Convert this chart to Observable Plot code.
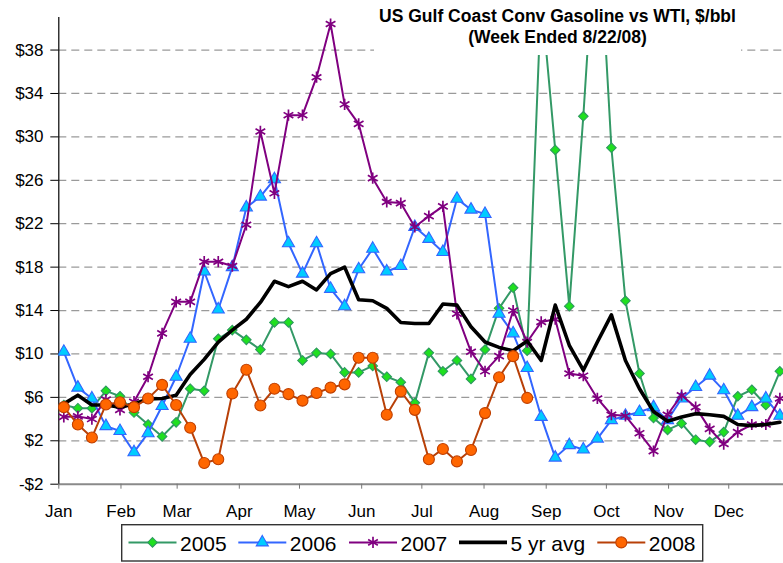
<!DOCTYPE html>
<html><head><meta charset="utf-8">
<script src="https://cdn.jsdelivr.net/npm/d3@7"></script>
<script src="https://cdn.jsdelivr.net/npm/@observablehq/plot@0.6"></script>
<style>
body{margin:0;background:#fff;}
#wrap{position:relative;width:783px;height:563px;overflow:hidden;background:#fff;font-family:'Liberation Sans',Arial,sans-serif;}
#chart{position:absolute;left:0;top:0;}
#title{position:absolute;left:374px;top:0;width:367px;height:55px;background:#fff;text-align:center;font-weight:bold;font-size:17.5px;line-height:21.6px;padding-top:5.8px;box-sizing:border-box;color:#000;white-space:nowrap;}
#legend{position:absolute;left:0;top:0;pointer-events:none;}
</style></head><body>
<div id="wrap">
  <div id="chart"></div>
  <div id="title">US Gulf Coast Conv Gasoline vs WTI, $/bbl<br>(Week Ended 8/22/08)</div>
  <svg id="legend" width="783" height="563"></svg>
</div>
<script>
// ---- data ----
const months = ["Jan","Feb","Mar","Apr","May","Jun","Jul","Aug","Sep","Oct","Nov","Dec"];
const monthStartDay = [0,31,59,90,120,151,181,212,243,273,304,334];
const yTicks = [-2,2,6,10,14,18,22,26,30,34,38];
const seriesNames = ["2005","2006","2007","5 yr avg","2008"];

const s2005 = [5.3,5.0,5.0,6.6,6.1,4.6,3.5,2.4,3.7,6.8,6.6,11.4,12.2,11.3,10.4,12.9,12.9,9.4,10.1,10.0,8.3,8.3,8.9,7.9,7.4,5.5,10.1,8.4,9.4,7.7,10.4,14.2,16.1,10.3,43,28.8,14.4,31.9,52,29.0,14.9,8.2,4.1,3.0,3.6,2.1,1.9,2.8,6.1,6.7,5.3,8.4];
const s2006 = [10.2,6.9,5.9,3.35,2.9,0.95,2.7,5.2,7.9,11.4,17.6,14.1,18.0,23.5,24.5,26.1,20.2,17.4,20.2,16.0,14.4,17.8,19.7,17.6,18.1,21.7,20.6,19.4,24.3,23.3,22.9,13.7,11.9,8.7,4.2,0.45,1.6,1.2,2.2,3.9,4.3,4.65,5.1,3.9,5.9,6.95,8.0,6.65,4.3,5.1,5.9,4.3];
const s2007 = [4.2,4.25,4.0,5.8,4.85,5.6,7.9,11.9,14.8,14.8,18.5,18.5,18.1,21.9,30.5,24.8,32.0,32.0,35.5,40.4,33.0,31.2,26.2,24.0,23.9,21.7,22.7,23.6,13.7,10.2,8.4,9.8,14.0,11.1,12.95,13.2,8.2,8.0,5.9,4.4,4.3,2.7,1.05,4.4,6.2,5.1,3.1,1.7,2.8,3.5,3.5,5.9];
const sAvg = [5.4,6.2,5.3,5.3,5.1,5.4,5.85,5.9,6.2,8.1,9.5,11.1,12.2,13.2,14.75,16.7,16.2,16.7,15.9,17.4,18.0,15.0,14.9,14.2,12.9,12.8,12.8,14.6,14.5,12.5,11.1,10.6,10.3,11.2,9.4,14.5,10.8,8.5,11.1,13.6,9.4,6.8,4.7,3.8,4.2,4.5,4.4,4.25,3.5,3.4,3.5,3.7];
const s2008 = [5.1,3.5,2.3,5.35,5.55,5.1,5.9,7.15,5.3,3.2,-0.05,0.3,6.35,8.55,5.25,6.8,6.3,5.7,6.4,6.9,7.2,9.65,9.65,4.4,6.55,4.85,0.3,1.25,0.1,1.15,4.55,7.85,9.8,5.95];

// ---- table (week i plotted at mid-week day of year) ----
const toRows = (vals) => vals.map((v, i) => ({day: 2.5 + 7 * i, v}));
const r2005 = toRows(s2005), r2006 = toRows(s2006), r2007 = toRows(s2007), rAvg = toRows(sAvg), r2008 = toRows(s2008);

const st = {
  "2005": {line:"#339966", w:2, symbol:"diamond2", r:4.3, fill:"#1fe01f", stroke:"#2e9960"},
  "2006": {line:"#3366ff", w:2, symbol:"triangle", r:4.5, fill:"#00ccff", stroke:"#3366ff"},
  "2007": {line:"#800080", w:2, symbol:"asterisk", r:5.3, fill:"none", stroke:"#800080"},
  "5 yr avg": {line:"#000000", w:3.6},
  "2008": {line:"#b84008", w:2, symbol:"circle", r:5.5, fill:"#ff6600", stroke:"#c04000"}
};

const fmt = d => d < 0 ? "-$" + (-d) : "$" + d;
const gridTicks = yTicks.filter(t => t > -2);

function seriesMarks(rows, key) {
  const s = st[key];
  const m = [Plot.line(rows, {x:"day", y:"v", stroke:s.line, strokeWidth:s.w, clip:true, strokeLinejoin:"round"})];
  if (s.symbol) {
    m.push(Plot.dot(rows, {x:"day", y:"v", symbol:s.symbol, r:s.r, fill:s.fill, stroke:s.stroke,
      strokeWidth: s.symbol === "asterisk" ? 1.7 : 1.1, clip:true}));
  }
  return m;
}

const chart = Plot.plot({
  width: 783,
  height: 522,
  marginLeft: 58.3,
  marginRight: 0,
  marginTop: 17,
  marginBottom: 38.3,
  style: {fontFamily: "'Liberation Sans', Arial, sans-serif", fontSize: "17px", background: "#fff", color: "#000"},
  x: {type: "linear", domain: [0, 361.3]},
  y: {domain: [-2, 41]},
  marks: [
    Plot.ruleY(gridTicks, {stroke: "#9a9a9a", strokeWidth: 1.2, strokeDasharray: "8,5"}),
    Plot.ruleY([-2], {stroke: "#8a8a8a", strokeWidth: 2}),
    Plot.ruleX([0], {y1: -2, y2: 41, stroke: "#000", strokeWidth: 1.2}),
    Plot.axisY({ticks: yTicks, tickFormat: fmt, tickSize: 8, tickPadding: 7.3, fontSize: 17, label: null, stroke: "#000"}),
    Plot.axisX({ticks: monthStartDay, tickFormat: (d) => months[monthStartDay.indexOf(d)], tickSize: 5, tickPadding: 16, fontSize: 17, label: null, stroke: "#777"}),
    ...seriesMarks(r2005, "2005"),
    ...seriesMarks(r2006, "2006"),
    ...seriesMarks(r2007, "2007"),
    ...seriesMarks(rAvg, "5 yr avg"),
    ...seriesMarks(r2008, "2008")
  ]
});
document.getElementById("chart").appendChild(chart);

// ---- legend ----
const lg = d3.select("#legend");
lg.append("rect").attr("x", 121.7).attr("y", 524.7).attr("width", 581).attr("height", 36.3)
  .attr("fill", "#fff").attr("stroke", "#333").attr("stroke-width", 1.4);
const swatchX = [128.5, 238.3, 349, 459, 597.3];
const symMap = {diamond2: d3.symbolDiamond2, triangle: d3.symbolTriangle, asterisk: d3.symbolAsterisk, circle: d3.symbolCircle};
seriesNames.forEach((name, k) => {
  const s = st[name];
  const x0 = swatchX[k], x1 = x0 + 48, yc = 542.4;
  lg.append("line").attr("x1", x0).attr("x2", x1).attr("y1", yc).attr("y2", yc)
    .attr("stroke", s.line).attr("stroke-width", name === "5 yr avg" ? 3.6 : 2);
  if (s.symbol) {
    lg.append("path").attr("d", d3.symbol(symMap[s.symbol], s.r * s.r * Math.PI)())
      .attr("transform", `translate(${(x0 + x1) / 2},${yc})`)
      .attr("fill", s.fill).attr("stroke", s.stroke).attr("stroke-width", s.symbol === "asterisk" ? 1.7 : 1.1);
  }
  lg.append("text").attr("x", x1 + 3.5).attr("y", 551.3).attr("font-size", 21)
    .attr("font-family", "'Liberation Sans', Arial, sans-serif").attr("fill", "#000").text(name);
});
</script>
</body></html>
